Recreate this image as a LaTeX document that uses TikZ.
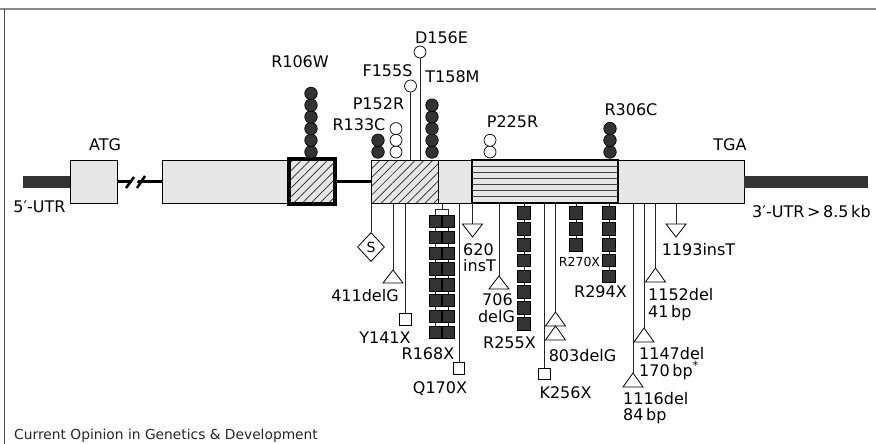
\documentclass[tikz,border=0pt]{standalone}
\usepackage{fontspec}
\setmainfont{DejaVu Sans}
\usepackage{tikz}
\usetikzlibrary{shapes.geometric,patterns.meta,positioning}
\definecolor{exongray}{HTML}{E6E6E6}
\definecolor{darkmut}{HTML}{333333}
\definecolor{framegray}{HTML}{8C8C8C}
\tikzset{
  exon/.style={draw, fill=exongray, line width=0.9pt, minimum height=43pt, inner sep=0pt, outer sep=0pt, anchor=north west},
  hatch/.style={exon, preaction={fill=exongray}, pattern={Lines[angle=45,distance=6.2pt,line width=0.7pt]}, pattern color=black!85},
  fullbead/.style={circle, draw, line width=0.7pt, fill=darkmut, minimum size=12.5pt, inner sep=0pt},
  openbead/.style={circle, draw, line width=0.7pt, fill=white, minimum size=12pt, inner sep=0pt},
  stopbox/.style={draw, line width=0.6pt, fill=darkmut, minimum size=12.5pt, inner sep=0pt},
  openbox/.style={draw, line width=0.8pt, fill=white, minimum size=11.5pt, inner sep=0pt},
  stem/.style={line width=0.8pt, black!85},
  tri/.style={draw, fill=white, line width=0.8pt, line join=miter},
  lbl/.style={anchor=base, inner sep=0pt, font=\fontsize{16}{17}\selectfont},
  lblw/.style={lbl, anchor=base west},
}

\begin{document}
\begin{tikzpicture}[x=1pt, y=-1pt]
\useasboundingbox (0,0) rectangle (876,444);
% frame
\draw[framegray, line width=2pt] (0,9) -- (876,9);
\draw[black!70, line width=1pt] (4,9) -- (4,444);

% exons
\node[exon, minimum width=47pt] (atg) at (70,160) {};
\node[exon, minimum width=126pt] (ex2) at (162,160) {};
\node[hatch, line width=3.5pt, minimum width=46pt, minimum height=45pt] (ex3) at (289,159) {};
\node[hatch, minimum width=67pt] (ex4a) at (371,160) {};
\node[exon, minimum width=34pt] (ex4b) at (438,160) {};
\node[exon, line width=1.1pt, minimum width=146pt] (ex5) at (472,160) {};
\foreach \k in {1,...,6}
  \draw[black!75, line width=0.9pt] ([yshift=-\k*6.14pt]ex5.north west) -- ([yshift=-\k*6.14pt]ex5.north east);
\node[exon, minimum width=126pt] (ex6) at (618,160) {};

% UTRs and introns
\draw[darkmut, line width=12pt] (atg.west) -- ++(-47,0);
\draw[darkmut, line width=12pt] (ex6.east) -- ++(124,0);
\draw[line width=3.5pt] (atg.east) -- (ex2.west);
\fill[white] (128,190) -- (136,174) -- (141,174) -- (133,190) -- cycle;
\draw[line width=2.6pt] (126,188) -- (134,177);
\draw[line width=2.6pt] (137,188) -- (145,176);
\draw[line width=3.5pt] (ex3.east) -- (ex4a.west);

\node[lbl] (lATG) at (105,150) {ATG};
\node[lbl] (lTGA) at (730,150) {TGA};
\node[lbl] (l5utr) at (39.5,212) {5′-UTR};
\node[lblw] (l3utr) at (752,217) {3′-UTR\,>\,8.5\,kb};

% missense, above the gene
\foreach \i in {0,...,5} \node[fullbead] (r106-\i) at (311,{152-11.7*\i}) {};
\foreach \i in {0,1} \node[fullbead] (r133-\i) at (378,{152-11.7*\i}) {};
\foreach \i in {0,1,2} \node[openbead] (p152-\i) at (396,{152-11.7*\i}) {};
\node[openbead] (f155) at (410.5,86) {};
\node[openbead] (d156) at (420,52) {};
\draw[stem] (f155.south) -- (f155.south |- ex4a.north);
\draw[stem] (d156.south) -- (d156.south |- ex4a.north);
\foreach \i in {0,...,4} \node[fullbead] (t158-\i) at (432,{152-11.7*\i}) {};
\foreach \i in {0,1} \node[openbead] (p225-\i) at (490,{152-11.7*\i}) {};
\foreach \i in {0,1,2} \node[fullbead] (r306-\i) at (610,{152-11.7*\i}) {};

\node[lbl] (lR106W) at (300,67) {R106W};
\node[lbl] (lF155S) at (387.5,77) {F155S};
\node[lbl] (lD156E) at (441.5,44) {D156E};
\node[lbl] (lT158M) at (452.5,82) {T158M};
\node[lbl] (lP152R) at (378.5,110) {P152R};
\node[lbl] (lR133C) at (359,130) {R133C};
\node[lbl] (lP225R) at (512.5,127) {P225R};
\node[lbl] (lR306C) at (631,115) {R306C};

% below the gene
\node[diamond, draw, fill=white, line width=0.8pt, minimum width=27pt, minimum height=29pt, inner sep=0pt] (splice) at (371,247) {\fontsize{14}{14}\selectfont S};
\draw[stem] (splice.north) -- (splice.north |- ex4a.south);

\coordinate (d411) at (393,270);
\draw[stem] (d411) -- (d411 |- ex4a.south);
\draw[tri] (d411) -- ++(10,13) -- ++(-20,0) -- cycle;
\node[lbl] (l411) at (365,301) {411delG};

\node[openbox] (y141) at (405.5,319.5) {};
\draw[stem] (y141.north) -- (y141.north |- ex4a.south);
\node[lbl] (lY141X) at (385,343) {Y141X};

\foreach \i in {0,...,7} {
  \node[stopbox] (r168a-\i) at (435.5,{221.5+15.8*\i}) {};
  \node[stopbox] (r168b-\i) at (448.5,{221.5+15.8*\i}) {};
}
\foreach \i [count=\j] in {0,...,6} {
  \draw[stem] (r168a-\i.south) -- (r168a-\j.north);
  \draw[stem] (r168b-\i.south) -- (r168b-\j.north);
}
\coordinate (r168) at (442,209.5);
\draw[stem] (r168 |- ex4b.south) -- (r168);
\draw[stem] (r168a-0.north) |- (r168) -| (r168b-0.north);
\node[lbl] (lR168X) at (428,359) {R168X};

\node[openbox] (q170) at (459,368.5) {};
\draw[stem] (q170.north) -- (q170.north |- ex4b.south);
\node[lbl] (lQ170X) at (440,393) {Q170X};

\coordinate (i620) at (472.5,224);
\draw[stem] (i620 |- ex5.south) -- (i620);
\draw[tri] (i620) ++(-10,0) -- ++(20,0) -- ++(-10,13) -- cycle;
\node[lblw] (l620a) at (463,255) {620};
\node[lblw] (l620b) at (463,271) {insT};

\coordinate (d706) at (499,276);
\draw[stem] (d706) -- (d706 |- ex5.south);
\draw[tri] (d706) -- ++(10,13) -- ++(-20,0) -- cycle;
\node[lbl] (l706a) at (497.5,305) {706};
\node[lbl] (l706b) at (496.5,322) {delG};

\foreach \i in {0,...,7} \node[stopbox] (r255-\i) at (524,{213+15.8*\i}) {};
\foreach \i [count=\j] in {0,...,6} \draw[stem] (r255-\i.south) -- (r255-\j.north);
\draw[stem] (r255-0.north) -- (r255-0.north |- ex5.south);
\node[lbl] (lR255X) at (509.5,348) {R255X};

\node[openbox] (k256) at (544.5,374) {};
\draw[stem] (k256.north) -- (k256.north |- ex5.south);
\node[lbl] (lK256X) at (565.5,398) {K256X};

\coordinate (d803) at (555.5,312);
\draw[stem] (d803) -- (d803 |- ex5.south);
\draw[tri] (d803) -- ++(10,14) -- ++(-20,0) -- cycle;
\draw[tri] (d803) ++(0,14) -- ++(10,14) -- ++(-20,0) -- cycle;
\node[lbl] (l803) at (582.5,361) {803delG};

\foreach \i in {0,1,2} \node[stopbox] (r270-\i) at (576,{213+15.8*\i}) {};
\foreach \i [count=\j] in {0,1} \draw[stem] (r270-\i.south) -- (r270-\j.north);
\draw[stem] (r270-0.north) -- (r270-0.north |- ex5.south);
\node[lbl, font=\fontsize{12.5}{13}\selectfont] (lR270X) at (579.5,266) {R270X};

\foreach \i in {0,...,4} \node[stopbox] (r294-\i) at (609,{213+15.8*\i}) {};
\foreach \i [count=\j] in {0,...,3} \draw[stem] (r294-\i.south) -- (r294-\j.north);
\draw[stem] (r294-0.north) -- (r294-0.north |- ex5.south);
\node[lbl] (lR294X) at (600.5,297) {R294X};

\coordinate (d1116) at (633,373);
\draw[stem] (d1116) -- (d1116 |- ex6.south);
\draw[tri] (d1116) -- ++(10,14) -- ++(-20,0) -- cycle;
\node[lblw] (l1116a) at (623,404) {1116del};
\node[lblw] (l1116b) at (623,420) {84\,bp};

\coordinate (d1147) at (644,328);
\draw[stem] (d1147) -- (d1147 |- ex6.south);
\draw[tri] (d1147) -- ++(10,14) -- ++(-20,0) -- cycle;
\node[lblw] (l1147a) at (639,359) {1147del};
\node[lblw] (l1147b) at (639,376) {170\,bp\textsuperscript{*}};

\coordinate (d1152) at (655.5,268);
\draw[stem] (d1152) -- (d1152 |- ex6.south);
\draw[tri] (d1152) -- ++(10,14) -- ++(-20,0) -- cycle;
\node[lblw] (l1152a) at (648,300) {1152del};
\node[lblw] (l1152b) at (648,317) {41\,bp};

\coordinate (i1193) at (676,224);
\draw[stem] (i1193 |- ex6.south) -- (i1193);
\draw[tri] (i1193) ++(-10,0) -- ++(20,0) -- ++(-10,13) -- cycle;
\node[lbl] (l1193) at (698.5,255) {1193insT};

\node[anchor=base west, inner sep=0pt, black!85, font=\fontsize{13.8}{15}\selectfont] (credit) at (14,439) {Current Opinion in Genetics \& Development};
\end{tikzpicture}
\end{document}
